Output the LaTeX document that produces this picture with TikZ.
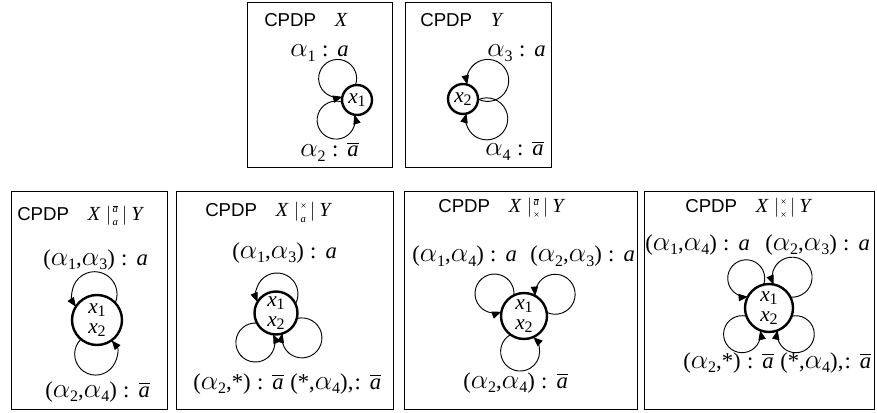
\documentclass[tikz,border=0pt]{standalone}
\usepackage{amsmath}
\usepackage{fontspec}
\setmainfont{Liberation Serif}
\setsansfont{Liberation Sans}
\usetikzlibrary{arrows.meta}

\newcommand\lblf{\fontsize{17}{17}\selectfont}
\newcommand\ndf{\fontsize{16}{15}\selectfont}
\newcommand\ttlf{\fontsize{14}{16}\sffamily}
\newcommand\mtf{\fontsize{15}{15}\selectfont}
\newcommand\subf{\fontsize{12}{12}\selectfont}
\newcommand\scrf{\fontsize{8}{8}\selectfont}
\newcommand\Ga{{\fontsize{20}{20}\selectfont$\alpha$}}
\newcommand\Al[1]{\Ga\raisebox{-0.2em}{\subf #1}}
\newcommand\Xs[1]{\textit{x}\raisebox{-0.15em}{\subf #1}}
\newcommand\ia{\textit{a}}
\newcommand\ba{$\overline{\textit{a}}$}
\newcommand\tx{×}
\newcommand\cl{\hspace{0.28em}:\hspace{0.4em}}
\newcommand\scr[2]{\kern1pt\makebox[6pt][l]{\raisebox{5.5pt}{\scrf #1}}\kern-6pt\makebox[6pt][l]{\raisebox{-4.5pt}{\scrf #2}}\kern1pt}
\newcommand\optitle[2]{{\ttlf CPDP}\hspace{14pt}{\mtf\textit{X}\hspace{4pt}$|$\scr{#1}{#2}$|$\hspace{3pt}\textit{Y}}}
% #1 node, #2 node radius, #3 direction of loop centre, #4 distance, #5 loop radius, #6 = 1 ccw / -1 cw
\newcommand\selfloop[6]{%
  \pgfmathsetmacro\slA{(#4*#4+#2*#2-#5*#5)/(2*#4)}%
  \pgfmathsetmacro\slH{sqrt(#2*#2-\slA*\slA)}%
  \pgfmathsetmacro\slB{acos(\slA/#2)}%
  \pgfmathsetmacro\slG{180-atan(\slH/(#4-\slA))}%
  \pgfmathtruncatemacro\slS{mod(#3-#6*\slB+720.5,360)}%
  \pgfmathsetmacro\slT{#3-#6*\slG}%
  \pgfmathsetmacro\slE{#3+#6*\slG}%
  \draw[lp] (#1.\slS) arc[start angle=\slT, end angle=\slE, radius=#5*0.75pt];
}

\begin{document}
\begin{tikzpicture}[x=0.75pt, y=0.75pt,
  boxframe/.style={line width=0.75pt},
  st/.style={circle, draw, line width=1.8pt, inner sep=0pt, outer sep=0pt, font=\ndf, align=center},
  lab/.style={anchor=base west, inner sep=0pt, font=\lblf},
  ttlnode/.style={anchor=base west, inner sep=0pt},
  lp/.style={line width=0.7pt, -{Triangle[length=7pt,width=5.5pt]}}]
\useasboundingbox (0,0) rectangle (877,-413);

% frames
\draw[boxframe] (247,-3) rectangle (392,-168);
\draw[boxframe] (405,-3) rectangle (551,-168);
\draw[boxframe] (11,-192) rectangle (167,-409);
\draw[boxframe] (176,-192) rectangle (393,-409);
\draw[boxframe] (404,-192) rectangle (637,-409);
\draw[boxframe] (644,-192) rectangle (874,-409);

% CPDP X
\node[ttlnode] (tX) at (264,-27) {{\ttlf CPDP}\hspace{14pt}{\mtf\textit{X}}};
\node[lab] (lX1) at (290,-57) {\Al1\cl\ia};
\node[lab] (lX2) at (300,-157) {\Al2\cl\ba};
\node[st, minimum size=22.5pt] (nX) at (357,-100) {\Xs1};
\selfloop{nX}{15}{132}{29}{19}{1}
\selfloop{nX}{15}{224}{29}{19}{1}

% CPDP Y
\node[ttlnode] (tY) at (420,-27) {{\ttlf CPDP}\hspace{14pt}{\mtf\textit{Y}}};
\node[lab] (lY1) at (487,-57) {\Al3\cl\ia};
\node[lab] (lY2) at (485,-156) {\Al4\cl\ba};
\node[st, minimum size=22.5pt] (nY) at (463,-99) {\Xs2};
\selfloop{nY}{15}{37}{31}{21}{1}
\selfloop{nY}{15}{320}{31}{21}{-1}

% box 1
\node[ttlnode] (t1) at (17,-220) {\optitle{$\overline{\textit{a}}$}{\textit{a}}};
\node[lab] (l1a) at (43,-265) {(\Al1,\Al3)\cl\ia};
\node[lab] (l1b) at (45,-397) {(\Al2,\Al4)\cl\ba};
\node[st, minimum size=37.5pt] (n1) at (97,-320) {\Xs1\\\Xs2};
\selfloop{n1}{25}{95.5}{26}{22.5}{1}
\selfloop{n1}{25}{267.5}{34}{21}{1}

% box 2
\node[ttlnode] (t2) at (205,-217) {\optitle{\tx}{\textit{a}}};
\node[lab] (l2a) at (232,-258) {(\Al1,\Al3)\cl\ia};
\node[lab] (l2b) at (193,-389) {(\Al2,*)\cl\ba};
\node[lab] (l2c) at (290,-389) {(*,\Al4),\hspace{0.05em}:\hspace{0.4em}\ba};
\node[st, minimum size=32.25pt] (n2) at (276,-313) {\Xs1\\\Xs2};
\selfloop{n2}{21.5}{87}{19}{21}{1}
\selfloop{n2}{21.5}{235}{36}{19.5}{1}
\selfloop{n2}{21.5}{316}{36}{20}{-1}

% box 3
\node[ttlnode] (t3) at (438,-213) {\optitle{$\overline{\textit{a}}$}{\tx}};
\node[lab] (l3a) at (412,-262) {(\Al1,\Al4)\cl\ia};
\node[lab] (l3b) at (530,-262) {(\Al2,\Al3)\cl\ia};
\node[lab] (l3c) at (463,-388) {(\Al2,\Al4)\cl\ba};
\node[st, minimum size=34.5pt] (n3) at (524,-316) {\Xs1\\\Xs2};
\selfloop{n3}{23}{142.5}{37}{19.5}{1}
\selfloop{n3}{23}{35}{38}{20}{1}
\selfloop{n3}{23}{263.6}{35.7}{19.5}{1}

% box 4
\node[ttlnode] (t4) at (685,-213) {\optitle{\tx}{\tx}};
\node[lab] (l4a) at (645,-250) {(\Al1,\Al4)\cl\ia};
\node[lab] (l4b) at (765,-250) {(\Al2,\Al3)\cl\ia};
\node[lab] (l4c) at (683,-368) {(\Al2,*)\cl\ba};
\node[lab] (l4d) at (780,-368) {(*,\Al4),\hspace{0.05em}:\hspace{0.4em}\ba};
\node[st, minimum size=36pt] (n4) at (769,-308) {\Xs1\\\Xs2};
\selfloop{n4}{24}{127.7}{37.5}{18.5}{1}
\selfloop{n4}{24}{53.4}{38.6}{20}{1}
\selfloop{n4}{24}{224}{37.5}{18.5}{1}
\selfloop{n4}{24}{315.5}{37.5}{18.5}{-1}
\end{tikzpicture}
\end{document}
